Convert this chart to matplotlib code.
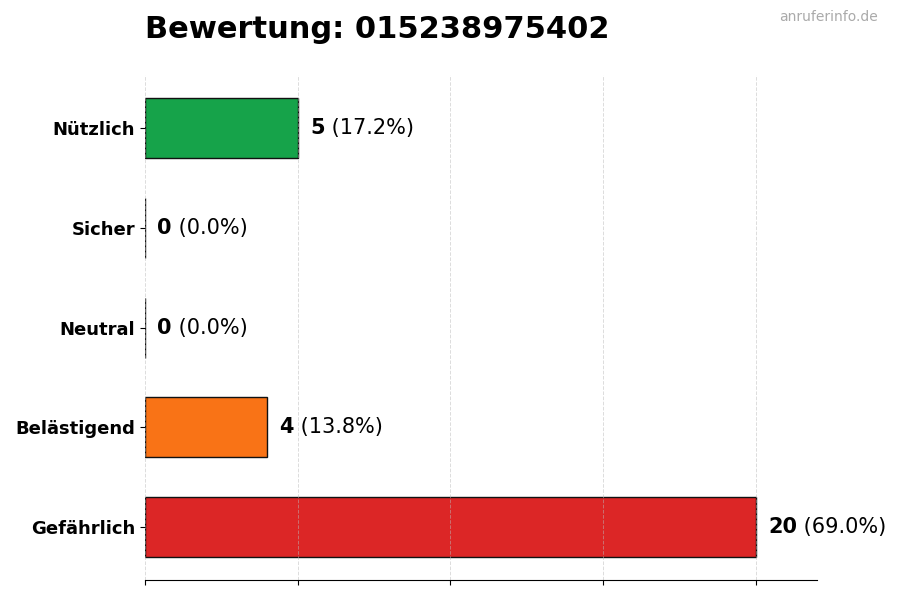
import matplotlib.pyplot as plt

# rating data (top to bottom as shown)
categories = ['Nützlich', 'Sicher', 'Neutral', 'Belästigend', 'Gefährlich']
counts = [5, 0, 0, 4, 20]
colors = ['#16a34a', '#2563eb', '#9ca3af', '#f97316', '#dc2626']
phone = '015238975402'

total = sum(counts)
ypos = list(range(len(categories)))[::-1]

fig = plt.figure(figsize=(9, 6), dpi=100)
ax = fig.add_axes([0.161, 0.033, 0.747, 0.842])

ax.barh(ypos, counts, height=0.6, color=colors, edgecolor='#111111', linewidth=1)

for y, c in zip(ypos, counts):
    pct = 100 * c / total if total else 0
    t = ax.text(c + 0.4, y, f'{c}', fontsize=15, fontweight='bold',
                va='center', ha='left')
    ax.annotate(f' ({pct:.1f}%)', xy=(1, 0), xycoords=t, fontsize=15,
                va='bottom', ha='left')

ax.set_yticks(ypos)
ax.set_yticklabels(categories, fontsize=13, fontweight='bold')
ax.set_xlim(0, 22)
ax.set_xticks([0, 5, 10, 15, 20])
ax.set_xticklabels([])
ax.grid(axis='x', linestyle='--', color='#bbbbbb', alpha=0.5, linewidth=0.7)

for s in ['top', 'right', 'left']:
    ax.spines[s].set_visible(False)

fig.text(0.161, 0.95, f'Bewertung: {phone}', fontsize=22, fontweight='bold',
         ha='left', va='center')
fig.text(0.975, 0.972, 'anruferinfo.de', fontsize=10, color='#aaaaaa',
         ha='right', va='center')

fig.savefig('out.png', dpi=100)
